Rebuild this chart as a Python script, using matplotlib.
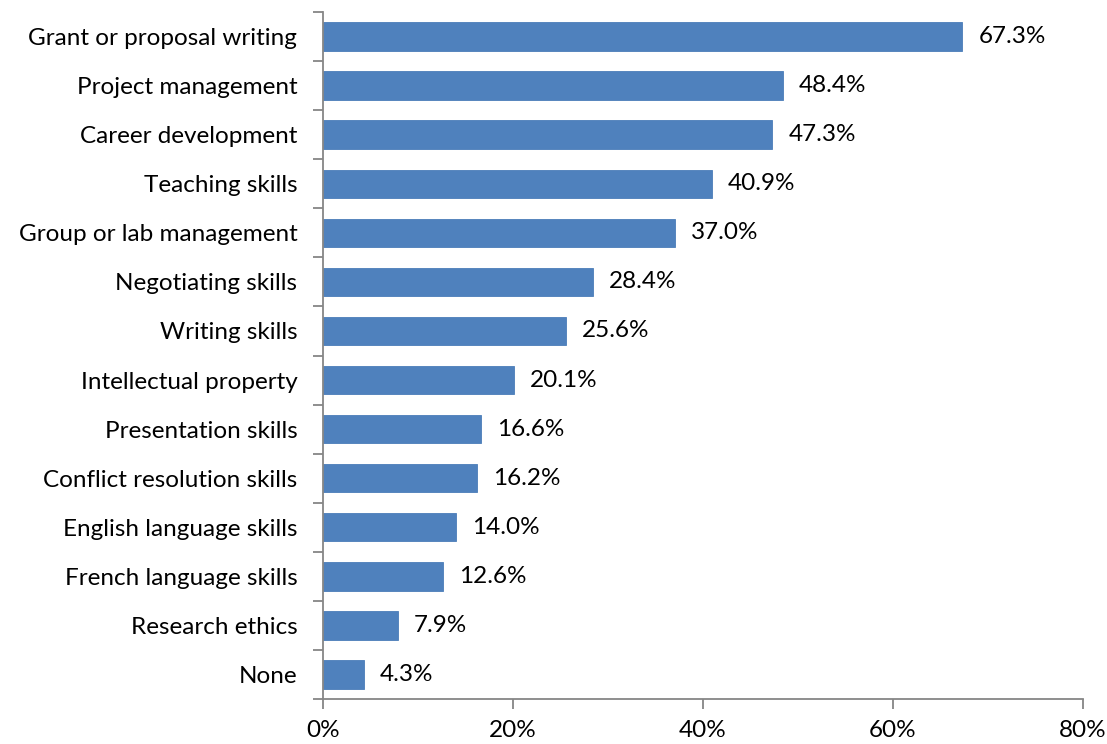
import matplotlib.pyplot as plt
from matplotlib.ticker import FuncFormatter, FixedLocator

plt.rcParams['font.family'] = ['Lato', 'DejaVu Sans']

categories = [
    'Grant or proposal writing',
    'Project management',
    'Career development',
    'Teaching skills',
    'Group or lab management',
    'Negotiating skills',
    'Writing skills',
    'Intellectual property',
    'Presentation skills',
    'Conflict resolution skills',
    'English language skills',
    'French language skills',
    'Research ethics',
    'None',
]
values = [67.3, 48.4, 47.3, 40.9, 37.0, 28.4, 25.6, 20.1, 16.6, 16.2, 14.0, 12.6, 7.9, 4.3]

fig = plt.figure(figsize=(11.07, 7.44), dpi=100)
ax = fig.add_axes([323 / 1107, 1 - 699 / 744, 760 / 1107, 687 / 744])

n = len(categories)
pos = list(range(n))[::-1]
ax.barh(pos, values, height=0.58, color='#4F81BD', edgecolor='#4A7DB8', linewidth=0.6)

# percentage labels next to each bar
for p, v in zip(pos, values):
    ax.annotate(f'{v:.1f}%', (v, p), xytext=(11.5, 0), textcoords='offset points',
                va='center', ha='left', fontsize=17.5, color='black')

ax.set_xlim(0, 80)
ax.set_ylim(-0.5, n - 0.5)
ax.set_xticks([0, 20, 40, 60, 80])
ax.xaxis.set_major_formatter(FuncFormatter(lambda x, _: f'{x:.0f}%'))
ax.set_yticks(pos)
ax.set_yticklabels(categories)
ax.yaxis.set_minor_locator(FixedLocator([i - 0.5 for i in range(n + 1)]))

ax.tick_params(axis='y', which='major', length=0, pad=18.5, labelsize=17.5)
ax.tick_params(axis='y', which='minor', length=7, width=1.3, color='#868686', direction='out')
ax.tick_params(axis='x', length=7, width=1.3, color='#868686', direction='out', labelsize=17.5, pad=8)

for s in ['top', 'right']:
    ax.spines[s].set_visible(False)
for s in ['left', 'bottom']:
    ax.spines[s].set_color('#868686')
    ax.spines[s].set_linewidth(1.3)

fig.savefig('out.png', dpi=100)
